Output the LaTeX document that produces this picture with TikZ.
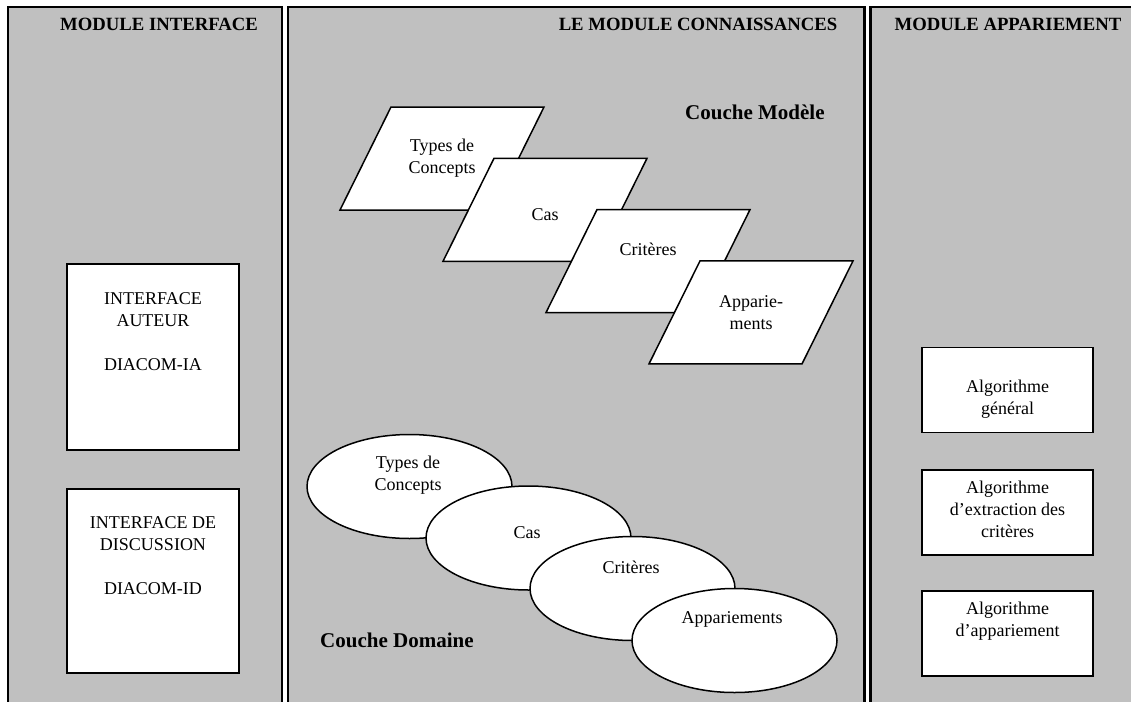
\documentclass[tikz,border=0pt]{standalone}
\usepackage{fontspec}
\setmainfont{Liberation Serif}
\usetikzlibrary{
    positioning,
    shapes.geometric,
}

\definecolor{panelgray}{RGB}{192,192,192}
\newcommand{\bodyfont}{\fontsize{18}{22}\selectfont}
\newcommand{\headfont}{\fontsize{18.7}{20}\selectfont\bfseries}
\newcommand{\couchefont}{\fontsize{21}{24}\selectfont\bfseries}

\begin{document}
\begin{tikzpicture}[
    x=1pt, y=-1pt,
    panel/.style={draw, line width=2.2pt, fill=panelgray},
    heading/.style={font=\headfont, inner sep=0pt},
    couche/.style={font=\couchefont, inner sep=0pt, anchor=west},
    txt/.style={font=\bodyfont, align=center, inner sep=0pt},
    ifacebox/.style={draw, line width=1.8pt, fill=white, minimum width=172pt},
    algobox/.style={draw, line width=1.8pt, fill=white, minimum width=171pt, minimum height=85pt},
    modele/.style={draw, line width=1.5pt, fill=white, line join=miter},
    domaine/.style={ellipse, draw, line width=1.5pt, fill=white,
        minimum width=205pt, minimum height=104pt, inner sep=0pt},
]

\useasboundingbox (0,0) rectangle (1131,701);
\fill[white] (0,0) rectangle (1131,701);

% the three modules
\filldraw[panel] (8,7) rectangle (282,715);
\filldraw[panel] (288,7) rectangle (864.5,715);
\filldraw[panel] (870.5,7) rectangle (1145,715);

\node[heading] (iface-head) at (159,24) {MODULE INTERFACE};
\node[heading] (conn-head) at (698,24) {LE MODULE CONNAISSANCES};
\node[heading] (app-head) at (1008,24) {MODULE APPARIEMENT};

% module interface
\node[ifacebox, minimum height=186pt] (auteur) at (153,357) {};
\node[ifacebox, minimum height=184pt] (discussion) [below=37pt of auteur] {};

% couche modele
\coordinate (types) at (442,158.5);
\coordinate (cas) at ([shift={(103,51.3)}]types);
\coordinate (criteres) at ([shift={(103,51.3)}]cas);
\coordinate (appariements) at ([shift={(103,51.3)}]criteres);
\foreach \p in {types, cas, criteres, appariements}
    \filldraw[modele, shift={(\p)}] (-51,-51.5) -- ++(153,0) -- ++(-51,103) -- ++(-153,0) -- cycle;
\node[couche] (modele-lbl) at (685,112) {Couche Modèle};

% couche domaine
\node[domaine] (d-types) at (409.5,486.5) {};
\node[domaine, on grid] (d-cas) [below right=51.5pt and 119pt of d-types] {};
\node[domaine, on grid] (d-criteres) [below right=50.5pt and 104pt of d-cas] {};
\node[domaine, on grid] (d-appariements) [below right=52pt and 102pt of d-criteres] {};
\node[couche] (domaine-lbl) at (320,640) {Couche Domaine};

% module appariement
\node[algobox] (general) at (1007.5,390) {};
\node[algobox] (extraction) [below=36pt of general] {};
\node[algobox] (appariement) [below=34pt of extraction] {};

% texts
\node[txt, yshift=25pt] (auteur-txt) at (auteur.center) {INTERFACE\\AUTEUR\\[22pt]DIACOM-IA};
\node[txt, yshift=25.5pt] (discussion-txt) at (discussion.center) {INTERFACE DE\\DISCUSSION\\[22pt]DIACOM-ID};

\node[txt] (types-txt) at (types) {Types de\\Concepts};
\node[txt, yshift=-5pt] (cas-txt) at (cas) {Cas};
\node[txt, yshift=12pt] (criteres-txt) at (criteres) {Critères};
\node[txt] (appariements-txt) at (appariements) {Apparie-\\ments};

\node[txt, xshift=-1.5pt, yshift=11.5pt] (d-types-txt) at (d-types.center) {Types de\\Concepts};
\node[txt, xshift=-1.5pt, yshift=5pt] (d-cas-txt) at (d-cas.center) {Cas};
\node[txt, xshift=-1.5pt, yshift=21.5pt] (d-criteres-txt) at (d-criteres.center) {Critères};
\node[txt, xshift=-2.5pt, yshift=21.5pt] (d-appariements-txt) at (d-appariements.center) {Appariements};

\node[txt, yshift=-9pt] (general-txt) at (general.center) {Algorithme\\général};
\node[txt, yshift=3pt] (extraction-txt) at (extraction.center) {Algorithme\\d’extraction des\\critères};
\node[txt, yshift=12pt] (appariement-txt) at (appariement.center) {Algorithme\\d’appariement};

\end{tikzpicture}
\end{document}
